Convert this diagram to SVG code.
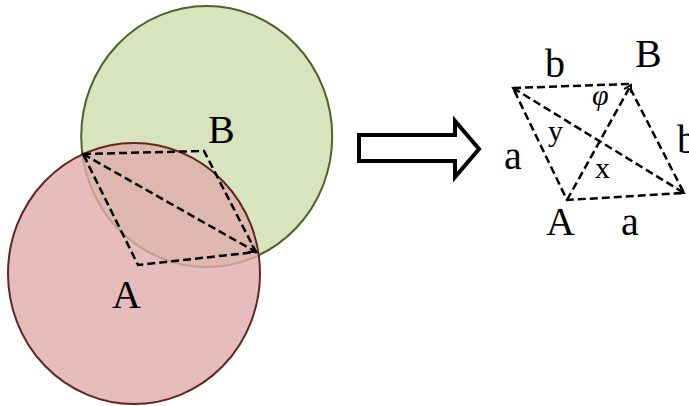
<svg xmlns="http://www.w3.org/2000/svg" width="689" height="406" viewBox="0 0 689 406">
<style>
.lbl{font-family:"Liberation Serif","Times New Roman",serif;font-size:40px;fill:#000}
.sm{font-family:"Liberation Serif","Times New Roman",serif;font-size:30px;fill:#000}
.dash{fill:none;stroke:#000;stroke-width:2.5;stroke-dasharray:8 4}
</style>
<defs>
<marker id="ah" viewBox="-9 -6 11 12" refX="0" refY="0" markerWidth="11" markerHeight="12" markerUnits="userSpaceOnUse" orient="auto-start-reverse">
<path d="M-7,-4 L0,0 L-7,4" fill="none" stroke="#000" stroke-width="2"/>
</marker>
</defs>
<rect width="689" height="406" fill="#fff"/>
<g id="circleB">
<ellipse cx="206.7" cy="136.5" rx="125.5" ry="130.5" fill="#d7e4bd" stroke="#4f6228" stroke-width="2"/>
</g>
<g id="circleA">
<ellipse cx="134" cy="273.5" rx="126" ry="130.5" fill="#e0acab" fill-opacity="0.8" stroke="#632523" stroke-width="2"/>
</g>
<g id="labels-left">
<text class="lbl" x="208" y="143">B</text>
<text class="lbl" x="112" y="308">A</text>
</g>
<g id="connectors">
<polyline class="dash" points="83,154 204,151 256,252 138,265 83,154"/>
<line class="dash" x1="83" y1="154" x2="256" y2="252" marker-start="url(#ah)" marker-end="url(#ah)"/>
<polyline class="dash" points="513,88 628,84 684,193 567,200 513,88"/>
<line class="dash" x1="513" y1="88" x2="684" y2="193" marker-start="url(#ah)" marker-end="url(#ah)"/>
<line class="dash" x1="567" y1="200" x2="631" y2="85" marker-end="url(#ah)"/>
</g>
<g id="bigArrow">
<polygon points="359,135 455,135 455,121 479,149 455,177 455,161 359,161" fill="#fff" stroke="#000" stroke-width="4"/>
</g>
<g id="labels-right">
<text class="lbl" x="545" y="77">b</text>
<text class="lbl" x="635" y="67">B</text>
<text class="lbl" x="504" y="169">a</text>
<text class="lbl" x="677" y="153">b</text>
<text class="lbl" x="546" y="235">A</text>
<text class="lbl" x="621" y="235">a</text>
<text class="sm" x="548" y="141">y</text>
<text class="sm" x="595" y="178">x</text>
<text class="sm" x="592" y="105" font-style="italic">φ</text>
</g>
</svg>
